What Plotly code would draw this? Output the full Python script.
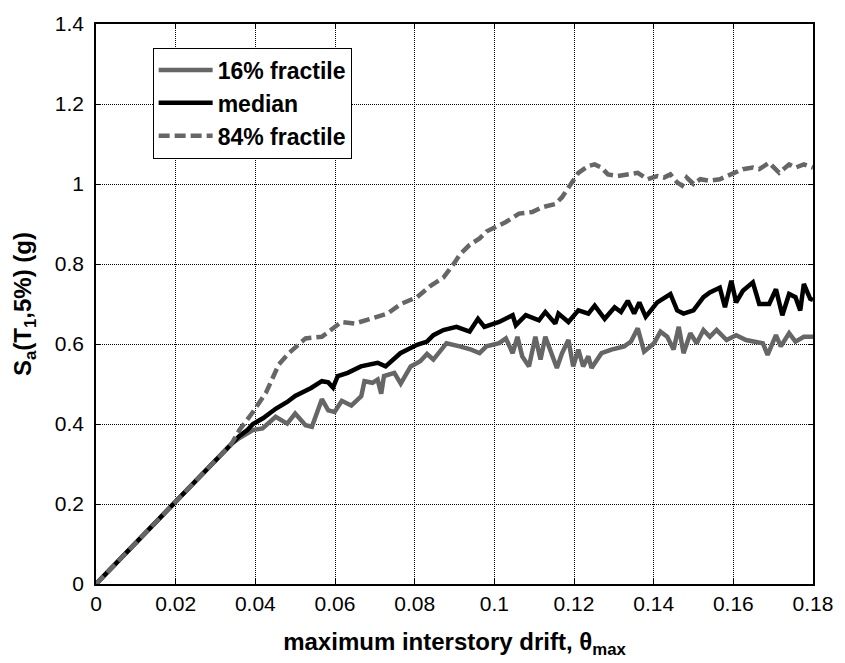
import plotly.graph_objects as go

# ---- data ----
drift_common = [0.0, 0.005, 0.01, 0.015, 0.02, 0.025, 0.03, 0.034]
sa_common = [0.0, 0.052, 0.103, 0.153, 0.205, 0.258, 0.31, 0.35]

drift_16 = [0.036, 0.0394, 0.0418, 0.0451, 0.048, 0.050, 0.0526, 0.0542, 0.0567, 0.0583,
            0.0599, 0.0617, 0.0641, 0.0666, 0.0674, 0.0694, 0.0707, 0.0716, 0.0723, 0.0749,
            0.0765, 0.079, 0.0814, 0.0831, 0.0847, 0.088, 0.0913, 0.0942, 0.0963, 0.098,
            0.1012, 0.1029, 0.1046, 0.1058, 0.107, 0.1087, 0.1103, 0.1116, 0.1128, 0.1145,
            0.1157, 0.117, 0.1186, 0.1198, 0.1211, 0.1223, 0.1236, 0.1244, 0.1269, 0.1294,
            0.1326, 0.1343, 0.136, 0.1376, 0.1401, 0.1417, 0.1434, 0.145, 0.1463, 0.1475,
            0.1492, 0.1508, 0.1525, 0.1541, 0.1558, 0.1583, 0.1607, 0.1632, 0.1657, 0.1674,
            0.1686, 0.1707, 0.1719, 0.174, 0.1756, 0.1777, 0.18]
sa_16 = [0.365, 0.385, 0.389, 0.418, 0.401, 0.426, 0.397, 0.393, 0.462, 0.434,
         0.430, 0.458, 0.446, 0.470, 0.507, 0.503, 0.511, 0.476, 0.520, 0.528,
         0.501, 0.544, 0.557, 0.575, 0.561, 0.602, 0.594, 0.586, 0.577, 0.594,
         0.602, 0.614, 0.577, 0.618, 0.569, 0.544, 0.618, 0.561, 0.618, 0.569,
         0.540, 0.577, 0.610, 0.544, 0.586, 0.544, 0.569, 0.540, 0.577, 0.586,
         0.594, 0.606, 0.639, 0.581, 0.602, 0.631, 0.618, 0.586, 0.643, 0.577,
         0.627, 0.602, 0.635, 0.618, 0.635, 0.610, 0.622, 0.610, 0.606, 0.602,
         0.573, 0.622, 0.594, 0.627, 0.606, 0.618, 0.618]

drift_med = [0.036, 0.038, 0.0394, 0.042, 0.0451, 0.048, 0.050, 0.052, 0.054, 0.0567,
             0.0583, 0.0595, 0.0607, 0.0632, 0.0665, 0.0707, 0.0727, 0.0764, 0.0806, 0.0831,
             0.0847, 0.0872, 0.0905, 0.0938, 0.0959, 0.0975, 0.1012, 0.1046, 0.1054, 0.1079,
             0.1112, 0.1128, 0.1153, 0.1161, 0.1186, 0.1211, 0.1236, 0.1252, 0.1277, 0.1302,
             0.1318, 0.1335, 0.1351, 0.1364, 0.138, 0.1409, 0.1442, 0.1459, 0.1475, 0.150,
             0.1525, 0.1541, 0.1566, 0.1579, 0.1595, 0.1607, 0.1624, 0.1649, 0.1665, 0.169,
             0.1707, 0.1723, 0.174, 0.1756, 0.1768, 0.1777, 0.1793, 0.18]
sa_med = [0.37, 0.385, 0.40, 0.415, 0.438, 0.455, 0.470, 0.480, 0.490, 0.507,
          0.504, 0.491, 0.520, 0.528, 0.544, 0.553, 0.544, 0.577, 0.598, 0.606,
          0.622, 0.635, 0.643, 0.631, 0.663, 0.643, 0.655, 0.672, 0.647, 0.672,
          0.659, 0.680, 0.651, 0.676, 0.655, 0.684, 0.676, 0.696, 0.663, 0.692,
          0.680, 0.708, 0.676, 0.704, 0.668, 0.704, 0.725, 0.684, 0.676, 0.684,
          0.717, 0.729, 0.741, 0.692, 0.758, 0.704, 0.733, 0.754, 0.700, 0.700,
          0.737, 0.672, 0.725, 0.717, 0.684, 0.750, 0.713, 0.71]

drift_84 = [0.036, 0.0394, 0.0427, 0.0443, 0.0459, 0.0484, 0.0526, 0.0567, 0.0583, 0.060,
            0.0616, 0.0649, 0.0683, 0.0732, 0.0765, 0.0806, 0.0839, 0.0872, 0.0897, 0.0913,
            0.0938, 0.0963, 0.098, 0.1004, 0.1029, 0.1062, 0.1095, 0.112, 0.1153, 0.117,
            0.1194, 0.1211, 0.1236, 0.1252, 0.1269, 0.1285, 0.131, 0.1335, 0.136, 0.1385,
            0.1409, 0.1426, 0.1442, 0.1459, 0.1471, 0.1483, 0.150, 0.1517, 0.1541, 0.1566,
            0.1591, 0.1624, 0.1649, 0.1665, 0.169, 0.1715, 0.174, 0.1756, 0.1777, 0.18]
sa_84 = [0.385, 0.430, 0.479, 0.511, 0.549, 0.577, 0.614, 0.618, 0.631, 0.643,
         0.655, 0.651, 0.662, 0.676, 0.700, 0.717, 0.745, 0.766, 0.799, 0.823,
         0.848, 0.864, 0.881, 0.893, 0.905, 0.926, 0.930, 0.942, 0.950, 0.967,
         1.0, 1.028, 1.045, 1.049, 1.041, 1.024, 1.02, 1.024, 1.028, 1.012,
         1.020, 1.016, 1.024, 1.004, 0.996, 1.016, 1.0, 1.012, 1.008, 1.012,
         1.024, 1.037, 1.041, 1.037, 1.053, 1.028, 1.049, 1.041, 1.049, 1.041]

x_ticks = [0, 0.02, 0.04, 0.06, 0.08, 0.1, 0.12, 0.14, 0.16, 0.18]
x_tick_labels = ["0", "0.02", "0.04", "0.06", "0.08", "0.1", "0.12", "0.14", "0.16", "0.18"]
y_ticks = [0, 0.2, 0.4, 0.6, 0.8, 1.0, 1.2, 1.4]
y_tick_labels = ["0", "0.2", "0.4", "0.6", "0.8", "1", "1.2", "1.4"]

GRAY = "#666666"
FONT = "Liberation Sans, Arial, sans-serif"

fig = go.Figure()
fig.add_trace(go.Scatter(x=drift_common + drift_16, y=sa_common + sa_16, mode="lines",
                         name="16% fractile", line=dict(color=GRAY, width=4.5)))
fig.add_trace(go.Scatter(x=drift_common + drift_med, y=sa_common + sa_med, mode="lines",
                         name="median", line=dict(color="black", width=4.5)))
fig.add_trace(go.Scatter(x=drift_common + drift_84, y=sa_common + sa_84, mode="lines",
                         name="84% fractile", line=dict(color=GRAY, width=4.5, dash="11px,5px")))

axis_common = dict(
    showline=True, linecolor="black", linewidth=1.5, mirror="ticks",
    ticks="inside", ticklen=5, tickcolor="black", tickwidth=1,
    showgrid=True, gridcolor="black", gridwidth=1, griddash="1px,1px",
    zeroline=False, tickfont=dict(family=FONT, size=21, color="black"),
)

fig.update_xaxes(range=[0, 0.18], tickvals=x_ticks, ticktext=x_tick_labels,
                 title=dict(text="maximum interstory drift, θ<sub>max</sub>",
                            font=dict(family=FONT, size=24, color="black", weight="bold"),
                            standoff=19),
                 **axis_common)
fig.update_yaxes(range=[0, 1.4], tickvals=y_ticks, ticktext=y_tick_labels,
                 ticklabelstandoff=6,
                 title=dict(text="S<sub>a</sub>(T<sub>1</sub>,5%) (g)",
                            font=dict(family=FONT, size=24, color="black", weight="bold"),
                            standoff=16),
                 **axis_common)

fig.update_layout(
    width=845, height=663,
    margin=dict(l=96, r=24, t=18, b=74),
    plot_bgcolor="white", paper_bgcolor="white",
    showlegend=True,
    legend=dict(x=0.079, y=0.958, xanchor="left", yanchor="top",
                bgcolor="white", bordercolor="black", borderwidth=1,
                font=dict(family=FONT, size=23, color="black", weight="bold"),
                tracegroupgap=0, itemwidth=54),
)

fig.write_html("out.html")
